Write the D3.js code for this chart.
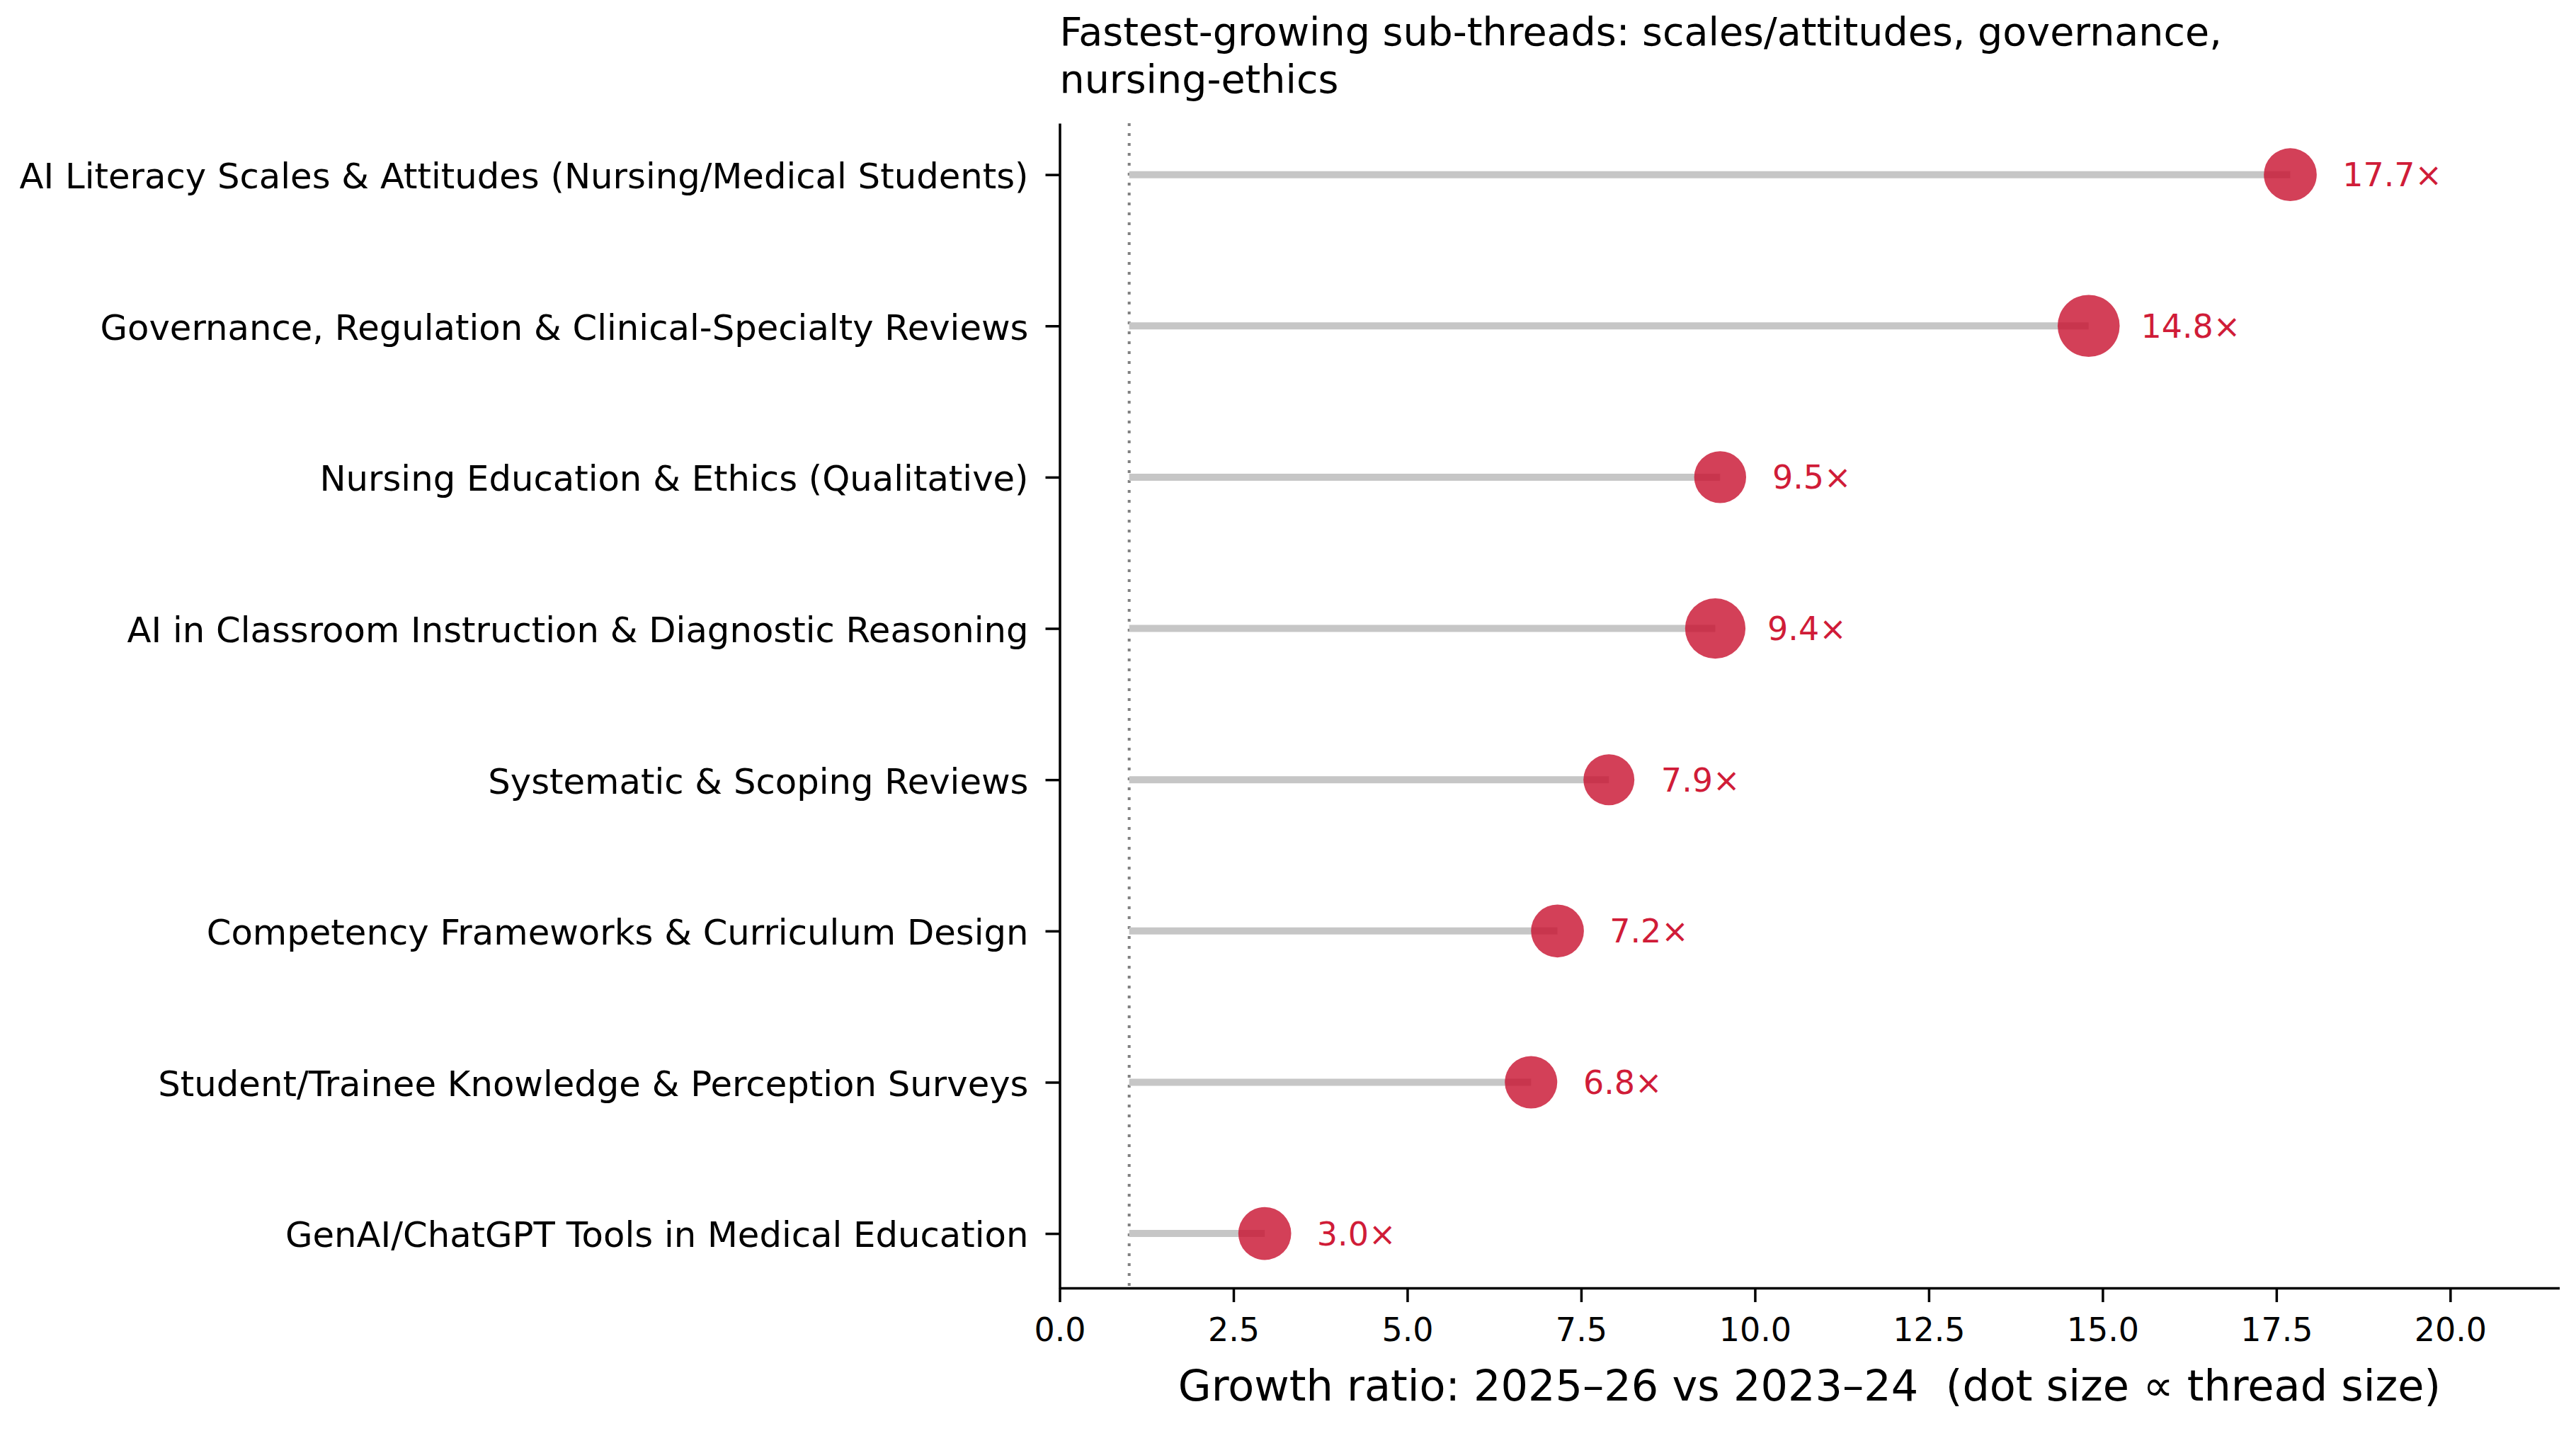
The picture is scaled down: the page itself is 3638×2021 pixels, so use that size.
<!DOCTYPE html>
<html>
  <head>
    <meta charset="utf-8">
    <script src="https://d3js.org/d3.v7.min.js"></script>
    <title>Fastest-growing sub-threads</title>
    <style>
      body { margin: 0; background: #fff; }
      text { font-family: "DejaVu Sans", sans-serif; white-space: pre; }
    </style>
  </head>
  <body>
    <svg width="3638" height="2021"></svg>
    <script>
      // Data
      const categories = [
        'AI Literacy Scales & Attitudes (Nursing/Medical Students)',
        'Governance, Regulation & Clinical-Specialty Reviews',
        'Nursing Education & Ethics (Qualitative)',
        'AI in Classroom Instruction & Diagnostic Reasoning',
        'Systematic & Scoping Reviews',
        'Competency Frameworks & Curriculum Design',
        'Student/Trainee Knowledge & Perception Surveys',
        'GenAI/ChatGPT Tools in Medical Education'
      ];
      const growth = [17.7, 14.8, 9.5, 9.43, 7.9, 7.16, 6.78, 2.95];
      const threadSize = [56, 77, 54, 73, 52, 56, 55, 56];
      const xTicks = [0, 2.5, 5, 7.5, 10, 12.5, 15, 17.5, 20];
      const titleLines = ['Fastest-growing sub-threads: scales/attitudes, governance,', 'nursing-ethics'];
      const xLabel = 'Growth ratio: 2025\u201326 vs 2023\u201324  (dot size \u221d thread size)';

      const svg = d3.select('svg');
      const red = '#c8102e';

      // scales
      const x = d3.scaleLinear().domain([0, 21.57]).range([1496.5, 3614.5]);
      const y = d3.scaleLinear().domain([-0.34, 7.36]).range([174, 1819]);
      const r = d3.scaleSqrt().domain([0, 77]).range([0, 43.8]);

      const data = categories.map((c, i) => ({ cat: c, i: i, g: growth[i], n: threadSize[i] }));

      // reference line at 1x
      svg.append('line')
        .attr('x1', x(1)).attr('x2', x(1))
        .attr('y1', y(-0.34)).attr('y2', y(7.36))
        .attr('stroke', '#808080')
        .attr('stroke-width', 4)
        .attr('stroke-dasharray', '4,10');

      // stems
      svg.selectAll('line.stem').data(data)
        .enter().append('line')
          .attr('class', 'stem')
          .attr('x1', x(1))
          .attr('x2', d => x(d.g))
          .attr('y1', d => y(d.i))
          .attr('y2', d => y(d.i))
          .attr('stroke', '#c6c6c6')
          .attr('stroke-width', 10);

      // dots
      svg.selectAll('circle').data(data)
        .enter().append('circle')
          .attr('cx', d => x(d.g))
          .attr('cy', d => y(d.i))
          .attr('r', d => r(d.n))
          .attr('fill', red)
          .attr('fill-opacity', 0.8);

      // value labels
      svg.selectAll('text.val').data(data)
        .enter().append('text')
          .attr('class', 'val')
          .attr('x', d => x(d.g + 0.75))
          .attr('y', d => y(d.i))
          .attr('dy', '0.36em')
          .attr('font-size', 46)
          .attr('fill', '#d01c38')
          .text(d => d3.format('.1f')(d.g) + '\u00d7');

      // axes
      const yAxis = svg.append('g')
        .attr('transform', `translate(${x(0)},0)`)
        .call(d3.axisLeft(y)
          .tickValues(d3.range(categories.length))
          .tickFormat(i => categories[i])
          .tickSize(20)
          .tickPadding(24)
          .tickSizeOuter(0));

      const xAxis = svg.append('g')
        .attr('transform', `translate(0,${y(7.36)})`)
        .call(d3.axisBottom(x)
          .tickValues(xTicks)
          .tickFormat(d3.format('.1f'))
          .tickSize(20)
          .tickPadding(22)
          .tickSizeOuter(0));

      [yAxis, xAxis].forEach(g => {
        g.select('.domain').attr('stroke', '#000').attr('stroke-width', 3.5);
        g.selectAll('.tick line').attr('stroke', '#000').attr('stroke-width', 3.5);
        g.selectAll('.tick text')
          .attr('font-family', '"DejaVu Sans", sans-serif')
          .attr('fill', '#000');
      });
      yAxis.selectAll('.tick text').attr('font-size', 49.7).attr('dy', '0.38em');
      xAxis.selectAll('.tick text').attr('font-size', 46);

      // title, left aligned with the plot
      svg.append('text')
        .attr('x', x(0))
        .attr('y', 64)
        .attr('font-size', 55.5)
        .attr('fill', '#000')
        .selectAll('tspan').data(titleLines)
        .enter().append('tspan')
          .attr('x', x(0))
          .attr('dy', (d, i) => i ? 67 : 0)
          .text(d => d);

      // x axis label
      svg.append('text')
        .attr('x', (x(0) + x(21.57)) / 2)
        .attr('y', 1978)
        .attr('text-anchor', 'middle')
        .attr('font-size', 60.5)
        .attr('fill', '#000')
        .text(xLabel);
    </script>
  </body>
</html>
